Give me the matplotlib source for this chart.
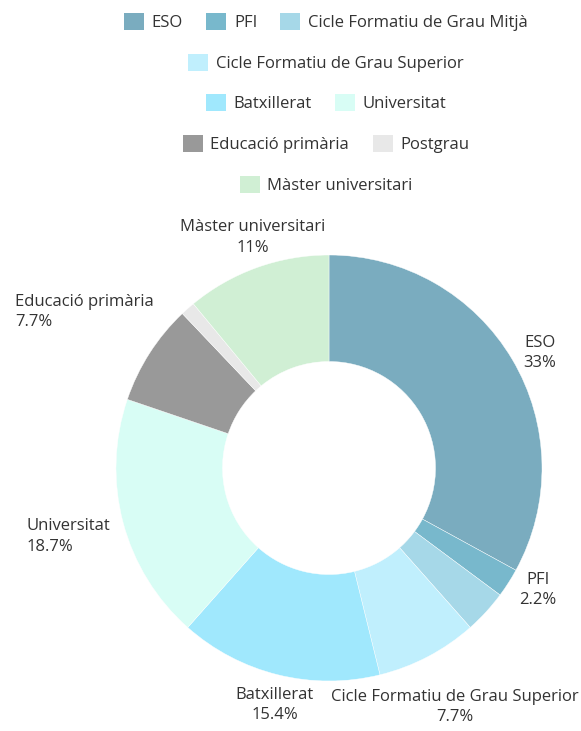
import numpy as np
import matplotlib.pyplot as plt
from matplotlib.patches import Patch

plt.rcParams['font.family'] = ['Open Sans', 'DejaVu Sans']

# Data (counts, shares computed by the pie)
categories = ['ESO', 'PFI', 'Cicle Formatiu de Grau Mitjà',
              'Cicle Formatiu de Grau Superior', 'Batxillerat', 'Universitat',
              'Educació primària', 'Postgrau', 'Màster universitari']
counts = [30, 2, 3, 7, 14, 17, 7, 1, 10]
colors = ['#7aacbf', '#78b8cc', '#a6d8e8', '#c0effd', '#a0e8fd', '#d8fdf5',
          '#999999', '#e8e8e8', '#d0efd4']
hidden_labels = ['Cicle Formatiu de Grau Mitjà', 'Postgrau']
legend_rows = [[0, 1, 2], [3], [4, 5], [6, 7], [8]]

# small manual nudges to avoid label overlap
label_nudge = {'Cicle Formatiu de Grau Superior': (0.1, -0.1),
               'Educació primària': (0.07, 0.16),
               'Universitat': (0, -0.05)}

W, H = 581, 731
cx, cy, R = 329, 468, 213
txt_color = '#333333'
fs = 12

fig = plt.figure(figsize=(W / 100, H / 100), dpi=100)
ax = fig.add_axes([0, 0, 1, 1])

wedges, _ = ax.pie(counts, colors=colors, startangle=90, counterclock=False,
                   radius=1.0, wedgeprops=dict(width=0.5, edgecolor='white', linewidth=0.3))
ax.set_xlim(-cx / R, (W - cx) / R)
ax.set_ylim(-(H - cy) / R, cy / R)
ax.axis('off')

total = sum(counts)
cum = 0
for name, c in zip(categories, counts):
    frac = c / total
    mid = (cum + c / 2) / total
    cum += c
    if name in hidden_labels:
        continue
    ang = np.deg2rad(90 - 360 * mid)
    x, y = 1.06 * np.cos(ang), 1.06 * np.sin(ang)
    dx, dy = label_nudge.get(name, (0, 0))
    x += dx
    y += dy
    pct = f'{round(frac * 100, 1):.1f}'.rstrip('0').rstrip('.') + '%'
    if abs(y) > 0.8:
        ha, ma = 'center', 'center'
        va = 'bottom' if y > 0 else 'top'
    elif x > 0:
        ha, ma, va = 'left', 'center', 'center'
    else:
        ha, ma, va = 'right', 'left', 'center'
    ax.text(x, y, f'{name}\n{pct}', ha=ha, va=va, multialignment=ma,
            fontsize=fs, color=txt_color, linespacing=1.35)

# legend, one centred row at a time (centred over the pie)
row_y = [22, 63, 103, 144, 185]
for row, yy in zip(legend_rows, row_y):
    handles = [Patch(facecolor=colors[i], edgecolor='none') for i in row]
    labels = [categories[i] for i in row]
    leg = fig.legend(handles, labels, loc='center', bbox_to_anchor=(326 / W, 1 - yy / H),
                     ncol=len(row), frameon=False, fontsize=fs,
                     handlelength=1.2, handleheight=1.2, handletextpad=0.45,
                     columnspacing=1.4, borderpad=0, borderaxespad=0)
    for t in leg.get_texts():
        t.set_color(txt_color)

fig.savefig('out.png', dpi=100)
